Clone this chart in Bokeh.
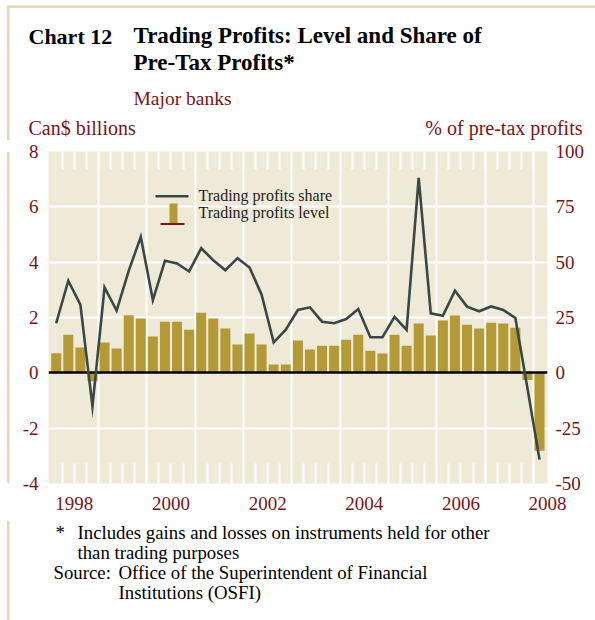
from bokeh.plotting import figure
from bokeh.layouts import column, row
from bokeh.models import Range1d, LinearAxis, FixedTicker, Label, BoxAnnotation
from bokeh.embed import file_html
from bokeh.resources import INLINE

# ---------------- data ----------------
quarters = [(y, q) for y in range(1998, 2008) for q in range(1, 5)] + [(2008, 1)]

# Trading profits level, Can$ billions (left axis)
level = [
    0.71, 1.38, 0.92, -0.30,   # 1998
    1.10, 0.88, 2.08, 1.96,    # 1999
    1.31, 1.85, 1.85, 1.56,    # 2000
    2.17, 1.96, 1.60, 1.02,    # 2001
    1.42, 1.02, 0.30, 0.30,    # 2002
    1.17, 0.84, 0.98, 0.98,    # 2003
    1.20, 1.38, 0.80, 0.70,    # 2004
    1.38, 0.98, 1.78, 1.35,    # 2005
    1.89, 2.07, 1.74, 1.60,    # 2006
    1.81, 1.78, 1.63, -0.26,   # 2007
    -2.82,                     # 2008
]

# Trading profits share, % of pre-tax profits (right axis)
share = [
    22.4, 41.6, 30.8, -15.2,
    38.6, 28.1, 46.1, 61.4,
    32.9, 50.6, 49.4, 45.8,
    56.3, 50.9, 46.4, 51.8,
    47.6, 35.3, 13.8, 19.5,
    28.4, 29.6, 23.1, 22.4,
    24.3, 28.8, 16.1, 16.1,
    25.3, 19.4, 88.1, 26.9,
    25.8, 37.1, 29.9, 27.8,
    30.0, 28.4, 24.8, -7.0,
    -39.2,
]

left_ticks = [-4, -2, 0, 2, 4, 6, 8]
right_ticks = [-50, -25, 0, 25, 50, 75, 100]
year_labels = ["1998", "2000", "2002", "2004", "2006", "2008"]

# ---------------- style ----------------
SERIF = "Liberation Serif"
RED = "#7a1418"
GOLD = "#b39a36"
SLATE = "#3a4845"
BG = "#efe9d8"
FRAME = "#e3d9b6"
INK = "#231f20"

W = 595
TOP_H = 140          # title block
MID_H = 380          # chart block
BOT_H = 100          # notes block
STRIP_W = 10         # left page rule strip
MAIN_W = W - STRIP_W
MID = 0.34           # baseline -> middle offset, in em


def text_panel(height):
    f = figure(width=W, height=height, x_range=Range1d(0, W), y_range=Range1d(height, 0),
               output_backend="svg", toolbar_location=None,
               x_axis_type=None, y_axis_type=None,
               min_border=0, outline_line_color=None,
               background_fill_color="white", border_fill_color="white")
    f.grid.visible = False
    return f


def lab(f, text, ix, iy, size, color, bold=False, align="left"):
    # iy is the wanted baseline (page px, y down); text is placed by its middle
    f.add_layout(Label(x=ix, y=iy - MID * size, text=text, text_font=SERIF,
                       text_font_size=f"{size}px", text_color=color,
                       text_font_style="bold" if bold else "normal",
                       text_align=align, text_baseline="middle"))


def rule(f, left, right, top, bottom):
    f.add_layout(BoxAnnotation(left=left, right=right, top=top, bottom=bottom,
                               fill_color=FRAME, fill_alpha=1, line_color=None))


# ---------------- title block ----------------
top = text_panel(TOP_H)
rule(top, 6.5, W, 5, 7.5)
rule(top, 6.5, 9, 5, TOP_H)
lab(top, "Chart 12", 28, 43, 22, "black", bold=True)
lab(top, "Trading Profits: Level and Share of", 133, 43, 23, "black", bold=True)
lab(top, "Pre-Tax Profits*", 133, 70, 23, "black", bold=True)
lab(top, "Major banks", 133, 105, 19.5, RED)
lab(top, "Can$ billions", 28, 134, 20, RED)
lab(top, "% of pre-tax profits", 582, 134, 20, RED, align="right")

# ---------------- left rule strip ----------------
strip = figure(width=STRIP_W, height=MID_H, x_range=Range1d(0, STRIP_W),
               y_range=Range1d(MID_H, 0), output_backend="svg", toolbar_location=None,
               x_axis_type=None, y_axis_type=None, min_border=0,
               outline_line_color=None, background_fill_color="white",
               border_fill_color="white")
strip.grid.visible = False
rule(strip, 6.5, 9, 0, MID_H)

# ---------------- chart ----------------
x = [y + (q - 0.5) / 4 for (y, q) in quarters]
q_bounds = [1998 + k / 4 for k in range(1, len(quarters))]
year_bounds = list(range(1999, 2009))

X0, X1 = 1997.9655, 2008.29
Y0, Y1 = -4, 8

# frame edges in page pixels
FX0, FX1, FY0, FY1 = 48, 547, 151, 483

p = figure(width=MAIN_W, height=MID_H, x_range=Range1d(X0, X1), y_range=Range1d(Y0, Y1),
           output_backend="svg", toolbar_location=None,
           min_border_left=FX0 - STRIP_W, min_border_right=W - FX1,
           min_border_top=FY0 - TOP_H, min_border_bottom=TOP_H + MID_H - FY1,
           background_fill_color=BG, border_fill_color="white",
           outline_line_color=None)
p.extra_y_ranges = {"pct": Range1d(-50, 100)}

KX = (FX1 - FX0) / (X1 - X0)
KY = (FY1 - FY0) / (Y1 - Y0)


def xd(ix):
    return X0 + (ix - FX0) / KX


def yd(iy):
    return Y1 - (iy - FY0) / KY


# grid
p.xgrid.ticker = FixedTicker(ticks=year_bounds)
p.xgrid.grid_line_color = "white"
p.xgrid.grid_line_width = 2
p.ygrid.ticker = FixedTicker(ticks=[t for t in left_ticks if Y0 < t < Y1])
p.ygrid.grid_line_color = "white"
p.ygrid.grid_line_width = 2

# bottom axis
xa = p.xaxis[0]
year_ticks = [int(s) + 0.5 for s in year_labels[:-1]] + [X1]
xa.ticker = FixedTicker(ticks=year_ticks, minor_ticks=q_bounds)
xa.major_label_overrides = {t: s for t, s in zip(year_ticks, year_labels)}
xa.axis_line_color = None
xa.major_tick_line_color = None
xa.major_tick_in = 0
xa.major_tick_out = 0
xa.minor_tick_in = 20
xa.minor_tick_out = 0
xa.minor_tick_line_color = "white"
xa.minor_tick_line_width = 2
xa.major_label_standoff = 13
xa.major_label_text_font = SERIF
xa.major_label_text_font_size = "19px"
xa.major_label_text_color = RED

# top axis (tick marks only)
ta = LinearAxis(ticker=FixedTicker(ticks=[], minor_ticks=q_bounds),
                axis_line_color=None, major_tick_line_color=None,
                major_tick_in=0, major_tick_out=0, major_label_standoff=0,
                minor_tick_in=18, minor_tick_out=0,
                minor_tick_line_color="white", minor_tick_line_width=2,
                major_label_text_font_size="0px")
p.add_layout(ta, "above")

# left axis
ya = p.yaxis[0]
ya.ticker = FixedTicker(ticks=left_ticks)
ya.major_label_overrides = {t: str(t) for t in left_ticks}
ya.axis_line_color = None
ya.major_tick_line_color = None
ya.major_tick_in = 0
ya.major_tick_out = 0
ya.minor_tick_line_color = None
ya.major_label_standoff = 10
ya.major_label_text_font = SERIF
ya.major_label_text_font_size = "19px"
ya.major_label_text_color = RED

# right axis
ra = LinearAxis(y_range_name="pct", ticker=FixedTicker(ticks=right_ticks),
                major_label_overrides={t: str(t) for t in right_ticks},
                axis_line_color=None, major_tick_line_color=None,
                major_tick_in=0, major_tick_out=0,
                minor_tick_line_color=None, major_label_standoff=8,
                major_label_text_font=SERIF, major_label_text_font_size="19px",
                major_label_text_color=RED)
p.add_layout(ra, "right")

# data
p.vbar(x=x, top=level, bottom=0, width=0.207, fill_color=GOLD, line_color=None)
p.hspan(y=[0], line_color="black", line_width=2.5)
p.line(x, share, y_range_name="pct", line_color=SLATE, line_width=2.6,
       line_join="miter")

# legend
p.add_layout(BoxAnnotation(left=xd(155), right=xd(188), top=yd(194.5), bottom=yd(197),
                           fill_color=SLATE, fill_alpha=1, line_color=None))
p.add_layout(BoxAnnotation(left=xd(169), right=xd(177), top=yd(203), bottom=yd(223),
                           fill_color=GOLD, fill_alpha=1, line_color=None))
p.add_layout(BoxAnnotation(left=xd(160), right=xd(184), top=yd(222.5), bottom=yd(224.5),
                           fill_color=RED, fill_alpha=1, line_color=None))
for txt, iy in [("Trading profits share", 200), ("Trading profits level", 217)]:
    p.add_layout(Label(x=xd(198), y=yd(iy - MID * 16), text=txt, text_font=SERIF,
                       text_font_size="16px", text_color=INK,
                       text_baseline="middle"))

# ---------------- notes block ----------------
bot = text_panel(BOT_H)
rule(bot, 6.5, 9, 0, BOT_H)
OY = TOP_H + MID_H
NOTE = 18.8
lab(bot, "*", 55, 538 - OY, NOTE, "black")
lab(bot, "Includes gains and losses on instruments held for other", 77, 538 - OY, NOTE, "black")
lab(bot, "than trading purposes", 77, 558 - OY, NOTE, "black")
lab(bot, "Source:", 53, 578 - OY, NOTE, "black")
lab(bot, "Office of the Superintendent of Financial", 118, 578 - OY, NOTE, "black")
lab(bot, "Institutions (OSFI)", 118, 598 - OY, NOTE, "black")

layout = column(top, row(strip, p, spacing=0), bot, spacing=0)

open("out.html", "w").write(file_html(layout, INLINE))
